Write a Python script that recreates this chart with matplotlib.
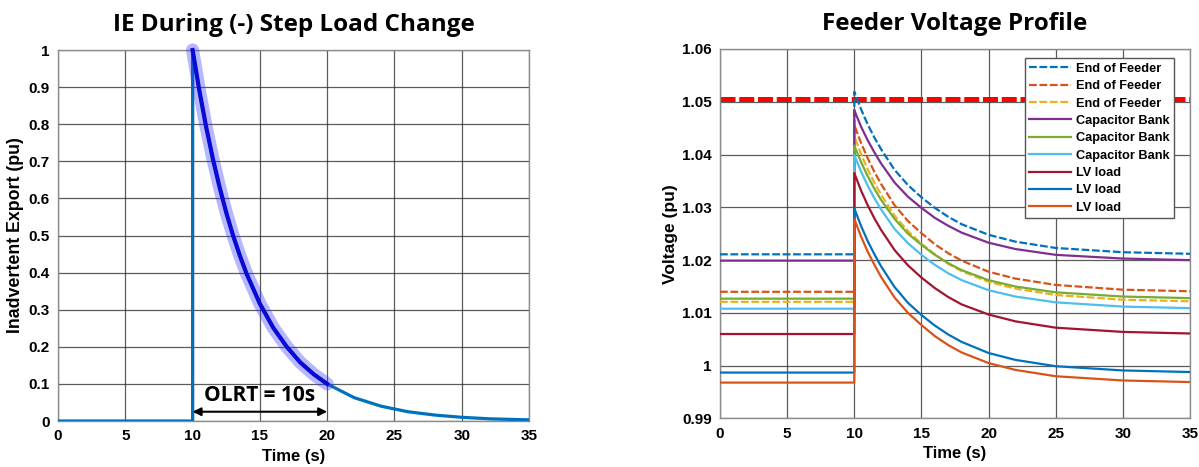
import matplotlib
matplotlib.use("Agg")
import matplotlib.pyplot as plt

# ---------------- data: left chart ----------------
ie_time = [0, 10, 10, 10.5, 11, 11.5, 12, 12.5, 13, 13.5, 14, 15, 16, 17, 18, 19, 20,
           22, 24, 26, 28, 30, 32, 35]
ie_value = [0, 0, 1.0, 0.891, 0.794, 0.708, 0.631, 0.562, 0.501, 0.447, 0.398, 0.316,
            0.251, 0.200, 0.158, 0.126, 0.100, 0.063, 0.040, 0.025, 0.016, 0.010, 0.006, 0.003]
olrt_start, olrt_end = 10, 20
olrt_label = "OLRT = 10s"

# ---------------- data: right chart ----------------
v_time = [0, 10, 10, 10.5, 11, 11.5, 12, 13, 14, 15, 16, 17, 18, 20, 22, 25, 30, 35]
eof_1 = [1.0211, 1.0211, 1.0519, 1.0486, 1.0457, 1.0432, 1.0410, 1.0371, 1.0342, 1.0319, 1.0299, 1.0282, 1.0268, 1.0248, 1.0235, 1.0223, 1.0215, 1.0212]
eof_2 = [1.0140, 1.0140, 1.0456, 1.0422, 1.0393, 1.0367, 1.0344, 1.0304, 1.0274, 1.0251, 1.0230, 1.0213, 1.0199, 1.0178, 1.0165, 1.0153, 1.0144, 1.0141]
eof_3 = [1.0121, 1.0121, 1.0435, 1.0401, 1.0372, 1.0346, 1.0324, 1.0284, 1.0255, 1.0231, 1.0211, 1.0193, 1.0179, 1.0159, 1.0146, 1.0134, 1.0125, 1.0122]
cap_1 = [1.0199, 1.0199, 1.0484, 1.0453, 1.0427, 1.0404, 1.0383, 1.0347, 1.0320, 1.0299, 1.0280, 1.0265, 1.0252, 1.0233, 1.0221, 1.0210, 1.0203, 1.0200]
cap_2 = [1.0127, 1.0127, 1.0417, 1.0386, 1.0359, 1.0335, 1.0314, 1.0278, 1.0250, 1.0229, 1.0210, 1.0194, 1.0181, 1.0162, 1.0150, 1.0139, 1.0131, 1.0128]
cap_3 = [1.0108, 1.0108, 1.0399, 1.0368, 1.0341, 1.0317, 1.0296, 1.0259, 1.0232, 1.0210, 1.0191, 1.0175, 1.0162, 1.0143, 1.0131, 1.0120, 1.0112, 1.0109]
lv_1 = [1.0060, 1.0060, 1.0365, 1.0332, 1.0304, 1.0279, 1.0257, 1.0219, 1.0190, 1.0167, 1.0147, 1.0130, 1.0116, 1.0097, 1.0084, 1.0072, 1.0064, 1.0061]
lv_2 = [0.9987, 0.9987, 1.0298, 1.0265, 1.0236, 1.0211, 1.0188, 1.0149, 1.0119, 1.0096, 1.0076, 1.0059, 1.0045, 1.0024, 1.0011, 0.9999, 0.9991, 0.9988]
lv_3 = [0.9968, 0.9968, 1.0278, 1.0245, 1.0216, 1.0191, 1.0168, 1.0129, 1.0100, 1.0077, 1.0056, 1.0039, 1.0025, 1.0005, 0.9992, 0.9980, 0.9972, 0.9969]
series_labels = ["End of Feeder", "End of Feeder", "End of Feeder",
                 "Capacitor Bank", "Capacitor Bank", "Capacitor Bank",
                 "LV load", "LV load", "LV load"]
voltage_limit = 1.0505

x_ticks = [0, 5, 10, 15, 20, 25, 30, 35]
ie_yticks = [0, 0.1, 0.2, 0.3, 0.4, 0.5, 0.6, 0.7, 0.8, 0.9, 1]
ie_yticklabels = ["0", "0.1", "0.2", "0.3", "0.4", "0.5", "0.6", "0.7", "0.8", "0.9", "1"]
v_yticks = [0.99, 1.0, 1.01, 1.02, 1.03, 1.04, 1.05, 1.06]
v_yticklabels = ["0.99", "1", "1.01", "1.02", "1.03", "1.04", "1.05", "1.06"]

# ---------------- styling ----------------
colors = ["#0072BD", "#D95319", "#EDB120", "#7E2F8E", "#77AC30", "#4DBEEE",
          "#A2142F", "#0072BD", "#D95319"]
styles = ["--", "--", "--", "-", "-", "-", "-", "-", "-"]
tick_font = dict(family="Liberation Sans", weight="bold", size=11)
title_font = dict(family="Open Sans", weight="bold", size=17.5)

fig = plt.figure(figsize=(11.99, 4.67), dpi=100)
ax1 = fig.add_axes([0.0484, 0.0985, 0.3928, 0.7944])
ax2 = fig.add_axes([0.6005, 0.1039, 0.3920, 0.7912])


def style_axes(ax):
    ax.grid(True, color="#262626", linewidth=0.9, alpha=0.75)
    ax.set_axisbelow(True)
    ax.tick_params(length=0, pad=6)
    for sp in ax.spines.values():
        sp.set_color("#8c8c8c")
        sp.set_linewidth(1.0)
    for lab in ax.get_xticklabels() + ax.get_yticklabels():
        lab.set_fontproperties(matplotlib.font_manager.FontProperties(**tick_font))


# ---- left chart ----
ax1.plot(ie_time, ie_value, color="#0072BD", linewidth=2.3, zorder=3)
hl_t = [t for t, v in zip(ie_time, ie_value) if olrt_start <= t <= olrt_end][1:]
hl_v = [v for t, v in zip(ie_time, ie_value) if olrt_start <= t <= olrt_end][1:]
ax1.plot(hl_t, hl_v, color="#3333ff", alpha=0.35, linewidth=9.5, solid_capstyle="round",
         solid_joinstyle="round", zorder=4, clip_on=False)
ax1.plot(hl_t, hl_v, color="#0a0ad6", linewidth=3, solid_joinstyle="round", zorder=5, clip_on=False)
ax1.annotate("", xy=(olrt_start, 0.025), xytext=(olrt_end, 0.025),
             arrowprops=dict(arrowstyle="<|-|>", color="black", lw=1.5,
                             mutation_scale=12, shrinkA=0, shrinkB=0), zorder=6)
ax1.text((olrt_start + olrt_end) / 2, 0.04, olrt_label, ha="center", va="bottom",
         fontfamily="Open Sans", fontweight="bold", fontsize=15, zorder=6)
ax1.set_xlim(0, 35)
ax1.set_ylim(0, 1)
ax1.set_xticks(x_ticks)
ax1.set_yticks(ie_yticks)
ax1.set_yticklabels(ie_yticklabels)
ax1.set_xlabel("Time (s)", fontfamily="Liberation Sans", fontweight="bold", fontsize=12, labelpad=4)
ax1.set_ylabel("Inadvertent Export (pu)", fontfamily="Liberation Sans", fontweight="bold",
               fontsize=12.8, labelpad=3)
ax1.set_title("IE During (-) Step Load Change", fontdict=title_font, pad=14)
style_axes(ax1)

# ---- right chart ----
ax2.axhline(voltage_limit, color="red", linewidth=3.6, dashes=(3.0, 0.75), zorder=2)
all_series = [eof_1, eof_2, eof_3, cap_1, cap_2, cap_3, lv_1, lv_2, lv_3]
for vals, c, ls, lab in zip(all_series, colors, styles, series_labels):
    line, = ax2.plot(v_time, vals, color=c, linestyle=ls, linewidth=1.6, label=lab, zorder=3,
                     solid_joinstyle="round")
    if ls == "--":
        line.set_dashes((3.5, 1.2))
ax2.set_xlim(0, 35)
ax2.set_ylim(0.99, 1.06)
ax2.set_xticks(x_ticks)
ax2.set_yticks(v_yticks)
ax2.set_yticklabels(v_yticklabels)
ax2.set_xlabel("Time (s)", fontfamily="Liberation Sans", fontweight="bold", fontsize=12, labelpad=4)
ax2.set_ylabel("Voltage (pu)", fontfamily="Liberation Sans", fontweight="bold", fontsize=12.5, labelpad=3)
ax2.set_title("Feeder Voltage Profile", fontdict=title_font, pad=14)
style_axes(ax2)
leg = ax2.legend(loc="upper right", bbox_to_anchor=(0.975, 0.985), fancybox=False, framealpha=1,
                 edgecolor="#555555", prop=dict(family="Liberation Sans", weight="bold", size=9.2),
                 handlelength=3.3, handletextpad=0.4, labelspacing=0.42, borderpad=0.35,
                 borderaxespad=0.3)
leg.get_frame().set_linewidth(1.0)
leg.set_zorder(10)

fig.savefig("out.png", dpi=100)
